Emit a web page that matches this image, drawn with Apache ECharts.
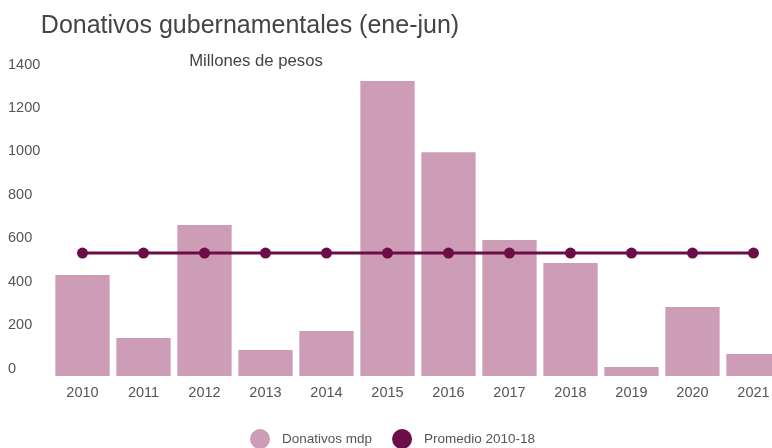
<!DOCTYPE html>
<html>
<head>
<meta charset="utf-8">
<script src="https://cdn.jsdelivr.net/npm/echarts@6/dist/echarts.min.js"></script>
<style>
  html, body { margin: 0; padding: 0; background: #fff; overflow: hidden; }
  /* chart is a bit wider than the window: the last bar is cut off at the right edge */
  #chart { width: 784px; height: 448px; }
</style>
</head>
<body>
<div id="chart"></div>
<script>
// Donations (Jan-Jun), millions of pesos
const years = ["2010", "2011", "2012", "2013", "2014", "2015", "2016", "2017", "2018", "2019", "2020", "2021"];
const donativos = [465, 175, 695, 120, 207, 1358, 1031, 626, 520, 41, 318, 101];
const promedio = [566, 566, 566, 566, 566, 566, 566, 566, 566, 566, 566, 566];

const chart = echarts.init(document.getElementById("chart"));

const option = {
  backgroundColor: "#fff",
  animation: false,
  textStyle: { fontFamily: "Liberation Sans, Arial, sans-serif" },
  title: [
    {
      text: "Donativos gubernamentales (ene-jun)",
      left: 245,
      top: 9,
      textAlign: "center",
      textStyle: { fontSize: 25, fontWeight: "normal", color: "#444" },
    },
    {
      text: "Millones de pesos",
      left: 251,
      top: 48,
      textAlign: "center",
      textStyle: { fontSize: 16.7, fontWeight: "normal", color: "#444" },
    },
  ],
  legend: {
    top: 424,
    left: 245,
    itemWidth: 20,
    itemHeight: 20,
    itemGap: 20,
    textStyle: { fontSize: 13.5, color: "#555", padding: [0, 0, 0, 7] },
    data: [
      { name: "Donativos mdp", icon: "circle" },
      { name: "Promedio 2010-18", icon: "circle" },
    ],
  },
  grid: { left: 52, top: 72, right: 0, bottom: 72, containLabel: false },
  xAxis: {
    type: "category",
    data: years,
    axisLine: { show: false },
    axisTick: { show: false },
    axisLabel: { color: "#555", fontSize: 14.5, margin: 9 },
  },
  yAxis: {
    type: "value",
    min: 0,
    max: 1400,
    interval: 200,
    splitLine: { show: false },
    axisLine: { show: false },
    axisTick: { show: false },
    axisLabel: {
      color: "#555",
      fontSize: 14.5,
      align: "left",
      verticalAlign: "bottom",
      margin: 44,
      formatter: (v) => String(v),
    },
  },
  series: [
    {
      name: "Donativos mdp",
      type: "bar",
      data: donativos,
      barCategoryGap: "11%",
      itemStyle: { color: "#cd9cb6" },
    },
    {
      name: "Promedio 2010-18",
      type: "line",
      data: promedio,
      symbol: "circle",
      symbolSize: 11,
      lineStyle: { color: "#6b0e47", width: 3 },
      itemStyle: { color: "#6b0e47" },
    },
  ],
};

chart.setOption(option);
</script>
</body>
</html>
